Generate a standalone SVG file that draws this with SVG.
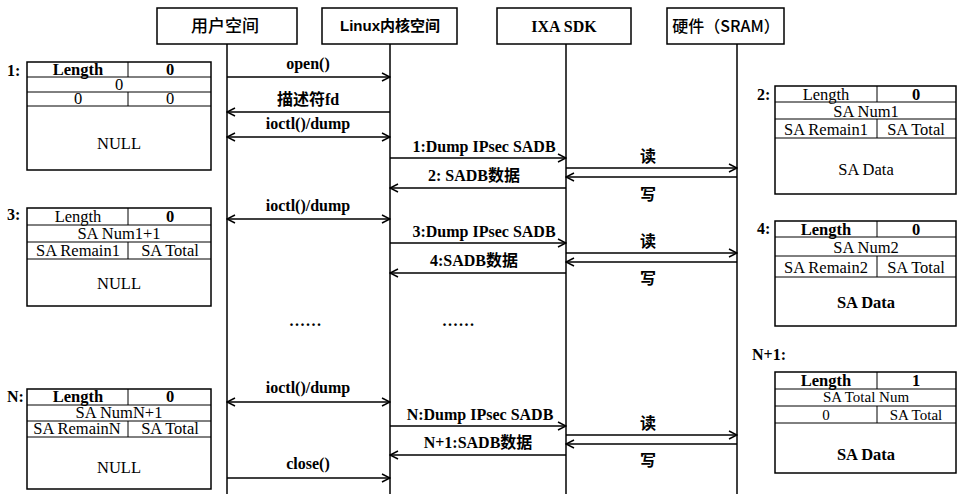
<svg xmlns="http://www.w3.org/2000/svg" width="962" height="494" viewBox="0 0 962 494">
<style>
.hd{fill:#fff;stroke:#000;stroke-width:1.5}
.ll{stroke:#000;stroke-width:1.5;fill:none}
.bx{fill:#fff;stroke:#000;stroke-width:1.5}
.rw{stroke:#000;stroke-width:1;fill:none}
.t{font-family:"Liberation Serif","Noto Sans CJK SC",serif;font-size:16.5px;fill:#000;text-anchor:middle}
.s{font-size:15px}
.b{font-weight:bold}
.cj{font-family:"Noto Sans CJK SC","Liberation Sans",sans-serif;font-size:17px;fill:#000;text-anchor:middle}
.lab{font-family:"Liberation Serif","Noto Sans CJK SC",serif;font-size:16px;font-weight:bold;fill:#000;text-anchor:middle}
.num{font-family:"Liberation Serif",serif;font-size:16px;font-weight:bold;fill:#000}
.ar{stroke:#000;stroke-width:1.5;fill:none;marker-end:url(#ah)}
.da{stroke:#000;stroke-width:1.5;fill:none;marker-end:url(#ah);marker-start:url(#ah)}
</style>
<defs>
<marker id="ah" viewBox="0 0 10 10" refX="9" refY="5" markerWidth="10" markerHeight="10" markerUnits="userSpaceOnUse" orient="auto-start-reverse">
<path d="M1,1 L9,5 L1,9" fill="none" stroke="#000" stroke-width="1.5"/>
</marker>
</defs>

<g id="lifelines">
<line class="ll" x1="227" y1="44" x2="227" y2="494"/>
<line class="ll" x1="390" y1="44" x2="390" y2="494"/>
<line class="ll" x1="566" y1="44" x2="566" y2="494"/>
<line class="ll" x1="737" y1="44" x2="737" y2="494"/>
</g>

<g id="user">
<rect class="hd" x="157" y="8" width="140" height="36"/>
<text class="cj" x="225" y="32" style="font-weight:500">用户空间</text>
</g>
<g id="kernel">
<rect class="hd" x="322" y="8" width="135" height="36"/>
<text class="cj b" x="390" y="31" style="font-family:'Liberation Sans','Noto Sans CJK SC',sans-serif;font-size:15px">Linux内核空间</text>
</g>
<g id="sdk">
<rect class="hd" x="497" y="8" width="134" height="36"/>
<text class="t b" x="564" y="32" style="font-size:16px">IXA SDK</text>
</g>
<g id="sram">
<rect class="hd" x="667" y="8" width="117" height="36"/>
<text class="cj" x="726" y="32" style="font-size:16px;font-weight:500">硬件（SRAM）</text>
</g>

<g id="connectors">
<line class="ar" x1="227" y1="77" x2="390" y2="77"/>
<text class="lab" x="308" y="69">open()</text>
<line class="ar" x1="390" y1="112" x2="227" y2="112"/>
<text class="lab" x="308" y="105">描述符fd</text>
<line class="da" x1="227" y1="137" x2="390" y2="137"/>
<text class="lab" x="308" y="129">ioctl()/dump</text>

<line class="ar" x1="390" y1="158" x2="566" y2="158"/>
<text class="lab" x="484" y="152">1:Dump IPsec SADB</text>
<line class="ar" x1="566" y1="188" x2="390" y2="188"/>
<text class="lab" x="474" y="181">2: SADB数据</text>
<line class="ar" x1="566" y1="168" x2="737" y2="168"/>
<text class="lab" x="648" y="162">读</text>
<line class="ar" x1="737" y1="177" x2="566" y2="177"/>
<text class="lab" x="648" y="200">写</text>

<line class="da" x1="227" y1="219" x2="390" y2="219"/>
<text class="lab" x="308" y="211">ioctl()/dump</text>
<line class="ar" x1="390" y1="243" x2="566" y2="243"/>
<text class="lab" x="484" y="237">3:Dump IPsec SADB</text>
<line class="ar" x1="566" y1="273" x2="390" y2="273"/>
<text class="lab" x="474" y="266">4:SADB数据</text>
<line class="ar" x1="566" y1="253" x2="737" y2="253"/>
<text class="lab" x="648" y="247">读</text>
<line class="ar" x1="737" y1="262" x2="566" y2="262"/>
<text class="lab" x="648" y="284">写</text>

<text class="lab" x="306" y="326" style="letter-spacing:1.5px">......</text>
<text class="lab" x="459" y="326" style="letter-spacing:1.5px">......</text>

<line class="da" x1="227" y1="402" x2="390" y2="402"/>
<text class="lab" x="308" y="393">ioctl()/dump</text>
<line class="ar" x1="390" y1="426" x2="566" y2="426"/>
<text class="lab" x="480" y="420">N:Dump IPsec SADB</text>
<line class="ar" x1="566" y1="455" x2="390" y2="455"/>
<text class="lab" x="478" y="448">N+1:SADB数据</text>
<line class="ar" x1="566" y1="435" x2="737" y2="435"/>
<text class="lab" x="648" y="429">读</text>
<line class="ar" x1="737" y1="444" x2="566" y2="444"/>
<text class="lab" x="648" y="466">写</text>
<line class="ar" x1="227" y1="478" x2="390" y2="478"/>
<text class="lab" x="308" y="469">close()</text>
</g>

<g id="box1">
<text class="num" x="7" y="76">1:</text>
<rect class="bx" x="27" y="62" width="184" height="108"/>
<path class="rw" d="M27,77H211M27,92H211M27,106H211M128,62V77M128,92V106"/>
<text class="t b" x="78" y="75">Length</text>
<text class="t b" x="170" y="75">0</text>
<text class="t" x="119" y="90">0</text>
<text class="t" x="78" y="104">0</text>
<text class="t" x="170" y="104">0</text>
<text class="t" x="119" y="149">NULL</text>
</g>

<g id="box3">
<text class="num" x="7" y="220">3:</text>
<rect class="bx" x="27" y="208" width="184" height="98"/>
<path class="rw" d="M27,225H211M27,242H211M27,259H211M128,208V225M128,242V259"/>
<text class="t" x="78" y="222">Length</text>
<text class="t b" x="170" y="222">0</text>
<text class="t" x="119" y="239">SA Num1+1</text>
<text class="t" x="78" y="256">SA Remain1</text>
<text class="t" x="170" y="256">SA Total</text>
<text class="t" x="119" y="289">NULL</text>
</g>

<g id="boxN">
<text class="num" x="7" y="402">N:</text>
<rect class="bx" x="27" y="389" width="184" height="100"/>
<path class="rw" d="M27,405H211M27,421H211M27,437H211M128,389V405M128,421V437"/>
<text class="t b" x="78" y="402">Length</text>
<text class="t b" x="170" y="402">0</text>
<text class="t" x="119" y="418">SA NumN+1</text>
<text class="t" x="77" y="434">SA RemainN</text>
<text class="t" x="170" y="434">SA Total</text>
<text class="t" x="119" y="473">NULL</text>
</g>

<g id="box2">
<text class="num" x="757" y="100">2:</text>
<rect class="bx" x="775" y="86" width="181" height="108"/>
<path class="rw" d="M775,102H956M775,119H956M775,138H956M877,86V102M877,119V138"/>
<text class="t" x="826" y="100">Length</text>
<text class="t b" x="916" y="100">0</text>
<text class="t" x="866" y="117">SA Num1</text>
<text class="t" x="826" y="135">SA Remain1</text>
<text class="t" x="916" y="135">SA Total</text>
<text class="t" x="866" y="175">SA Data</text>
</g>

<g id="box4">
<text class="num" x="757" y="234">4:</text>
<rect class="bx" x="775" y="221" width="181" height="105"/>
<path class="rw" d="M775,237H956M775,256H956M775,277H956M877,221V237M877,256V277"/>
<text class="t b" x="826" y="235">Length</text>
<text class="t b" x="916" y="235">0</text>
<text class="t" x="866" y="253">SA Num2</text>
<text class="t" x="826" y="273">SA Remain2</text>
<text class="t" x="916" y="273">SA Total</text>
<text class="t b" x="866" y="308">SA Data</text>
</g>

<g id="boxN1">
<text class="num" x="752" y="360">N+1:</text>
<rect class="bx" x="775" y="372" width="181" height="101"/>
<path class="rw" d="M775,389H956M775,406H956M775,423H956M877,372V389M877,406V423"/>
<text class="t b" x="826" y="386">Length</text>
<text class="t b" x="916" y="386">1</text>
<text class="t s" x="866" y="402">SA Total Num</text>
<text class="t s" x="826" y="420">0</text>
<text class="t s" x="916" y="420">SA Total</text>
<text class="t b" x="866" y="460">SA Data</text>
</g>
</svg>
